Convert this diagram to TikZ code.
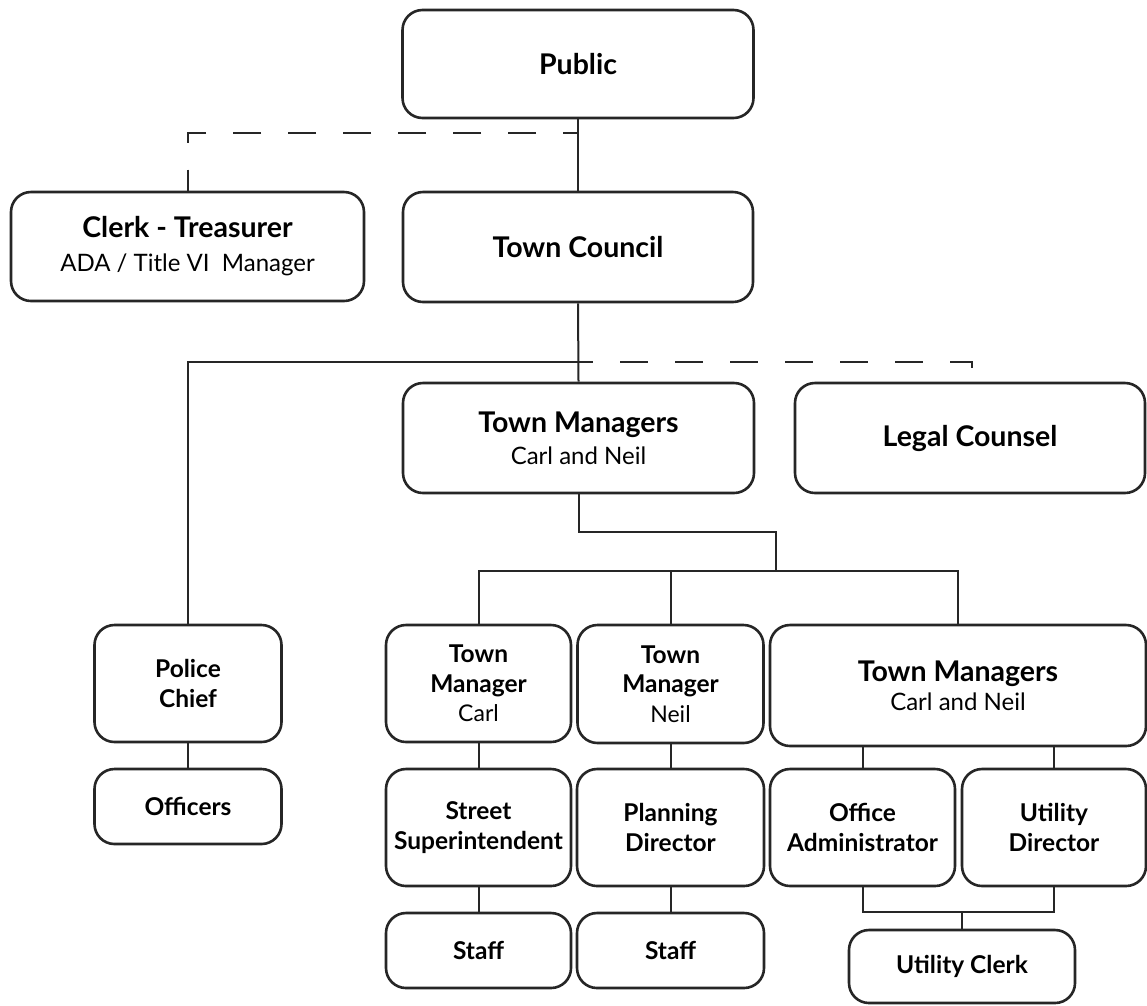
\documentclass[tikz,border=0pt]{standalone}
\usepackage{fontspec}
\setmainfont{Lato}
\newcommand\bigsub{\fontsize{24}{32}\selectfont}
\newcommand\smallsub{\fontsize{23}{29.5}\selectfont}
\begin{document}
\begin{tikzpicture}[x=1pt,y=-1pt,
  box/.style={draw=black!85, line width=2.6pt, rounded corners=20pt, inner sep=0pt, align=center},
  link/.style={draw=black!85, line width=2pt},
  dlink/.style={link, dash pattern=on 28pt off 27pt, dash phase=13pt},
  big/.style={font=\fontsize{28.5}{32}\selectfont},
  small/.style={font=\fontsize{24.5}{29.5}\selectfont}]
\useasboundingbox (0,0) rectangle (1147,1005);
\fill[white] (0,0) rectangle (1147,1005);

\node[box,big,minimum width=351pt,minimum height=108pt] (public) at (578,64) {\textbf{Public}};
\node[box,big,minimum width=353pt,minimum height=109pt] (clerk) at (187.5,246.5) {\textbf{Clerk - Treasurer}\\[2pt]{\bigsub ADA / Title VI\ \ Manager}};
\node[box,big,minimum width=350pt,minimum height=110pt] (council) at (578,247) {\textbf{Town Council}};
\node[box,big,minimum width=351pt,minimum height=110pt] (tm) at (578.5,438) {\textbf{Town Managers}\\{\bigsub Carl and Neil}};
\node[box,big,minimum width=350pt,minimum height=110pt] (legal) at (970,438) {\textbf{Legal Counsel}};

\node[box,small,minimum width=187pt,minimum height=117pt] (police) at (188,683.5) {\textbf{Police}\\\textbf{Chief}};
\node[box,small,minimum width=187pt,minimum height=75pt] (officers) at (188,806.5) {\textbf{Officers}};
\node[box,small,minimum width=185pt,minimum height=117pt] (tmc) at (478.5,683.5) {\textbf{Town}\\\textbf{Manager}\\{\smallsub Carl}};
\node[box,small,minimum width=186pt,minimum height=118pt] (tmn) at (670.5,684) {\textbf{Town}\\\textbf{Manager}\\{\smallsub Neil}};
\node[box,big,minimum width=376pt,minimum height=121pt] (tmb) at (958,685.5) {\textbf{Town Managers}\\[-3pt]{\bigsub Carl and Neil}};
\node[box,small,minimum width=185pt,minimum height=117pt] (street) at (478.5,827.5) {\textbf{Street}\\\textbf{Superintendent}};
\node[box,small,minimum width=187pt,minimum height=117pt] (planning) at (670.5,827.5) {\textbf{Planning}\\\textbf{Director}};
\node[box,small,minimum width=185pt,minimum height=117pt] (office) at (862.5,827.5) {\textbf{Office}\\\textbf{Administrator}};
\node[box,small,minimum width=184pt,minimum height=117pt] (utildir) at (1054,827.5) {\textbf{Utility}\\\textbf{Director}};
\node[box,small,minimum width=185pt,minimum height=75pt] (staffa) at (478.5,950.5) {\textbf{Staff}};
\node[box,small,minimum width=187pt,minimum height=75pt] (staffb) at (670.5,950.5) {\textbf{Staff}};
\node[box,small,minimum width=226pt,minimum height=73pt] (uclerk) at (962,966.5) {\textbf{Utility Clerk}};

% connectors
\coordinate (j1) at (578,133);
\coordinate (j2) at (578,362);
\coordinate (j3) at (776,532);
\coordinate (j4) at (776,571);
\coordinate (j5) at (962,912);

\draw[link] (public.south) -- (council.north);
\draw[dlink] (j1) -| (clerk.north);
\draw[link] (council.south) -- (tm.north);
\draw[link] (j2) -| (police.north);
\draw[dlink] (j2) -| ([xshift=2pt]legal.north);
\draw[link] (tm.south) |- (j3) -- (j4);
\draw[link] (tmc.north) |- (j4) -| (tmb.north);
\draw[link] (j4 -| tmn.north) -- (tmn.north);
\draw[link] (police.south) -- (officers.north);
\draw[link] (tmc.south) -- (street.north);
\draw[link] (street.south) -- (staffa.north);
\draw[link] (tmn.south) -- (planning.north);
\draw[link] (planning.south) -- (staffb.north);
\draw[link] (office.north |- tmb.south) -- (office.north);
\draw[link] (utildir.north |- tmb.south) -- (utildir.north);
\draw[link] (office.south) |- (j5) -| (utildir.south);
\draw[link] (j5) -- (uclerk.north);
\end{tikzpicture}
\end{document}
